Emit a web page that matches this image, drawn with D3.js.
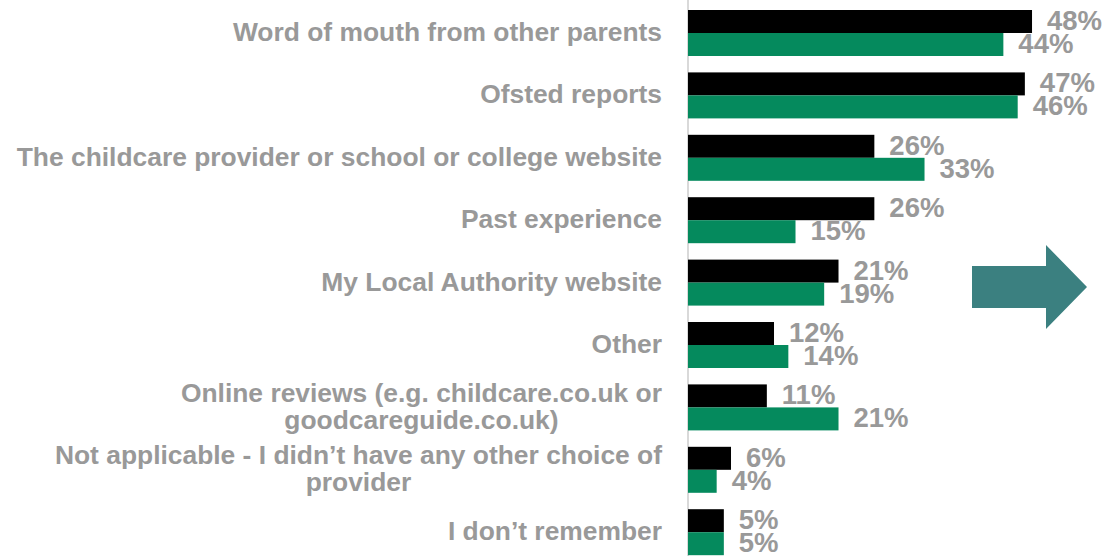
<!DOCTYPE html>
<html>
<head>
<meta charset="utf-8">
<script src="https://cdn.jsdelivr.net/npm/d3@7"></script>
<style>
  body { margin: 0; background: #fff; }
  svg text { font-family: "Liberation Sans", Arial, sans-serif; font-weight: bold; fill: #999; }
</style>
</head>
<body>
<div id="chart"></div>
<script>
const categories = [
  ["Word of mouth from other parents"],
  ["Ofsted reports"],
  ["The childcare provider or school or college website"],
  ["Past experience"],
  ["My Local Authority website"],
  ["Other"],
  ["Online reviews (e.g. childcare.co.uk or", "goodcareguide.co.uk)"],
  ["Not applicable - I didn\u2019t have any other choice of", "provider"],
  ["I don\u2019t remember"]
];
const seriesBlack = [48, 47, 26, 26, 21, 12, 11, 6, 5];
const seriesGreen = [44, 46, 33, 15, 19, 14, 21, 4, 5];
const seriesNames = ["black", "green"];
const colors = { black: "#000000", green: "#058a5d" };

const width = 1105, height = 556;
const axisX = 688;

const svg = d3.select("#chart").append("svg")
  .attr("width", width)
  .attr("height", height);

const x = d3.scaleLinear().domain([0, 58]).range([axisX, 1103.7]);

const y = d3.scaleBand()
  .domain(d3.range(categories.length))
  .range([1.8, 563.4])
  .paddingInner(0.263)
  .paddingOuter(0.1315);

const ySub = d3.scaleBand()
  .domain(seriesNames)
  .range([0, y.bandwidth()]);

const rows = categories.map((c, i) => ({
  i,
  lines: c,
  values: [
    { key: "black", v: seriesBlack[i] },
    { key: "green", v: seriesGreen[i] }
  ]
}));

// axis line
svg.append("line")
  .attr("x1", axisX).attr("x2", axisX)
  .attr("y1", 0).attr("y2", height)
  .attr("stroke", "#d9d9d9")
  .attr("stroke-width", 2);

const groups = svg.selectAll("g.row")
  .data(rows)
  .join("g")
  .attr("class", "row")
  .attr("transform", d => `translate(0,${y(d.i)})`);

groups.selectAll("rect")
  .data(d => d.values)
  .join("rect")
  .attr("x", axisX)
  .attr("y", d => ySub(d.key))
  .attr("width", d => x(d.v) - axisX)
  .attr("height", ySub.bandwidth())
  .attr("fill", d => colors[d.key]);

groups.selectAll("text.val")
  .data(d => d.values)
  .join("text")
  .attr("class", "val")
  .attr("x", d => x(d.v) + 15)
  .attr("y", d => ySub(d.key) + ySub.bandwidth() / 2 + 8.5)
  .style("font-size", "27.5px")
  .text(d => d.v + "%");

// category labels, right aligned, multi-line blocks centred
const labelRight = 662;
groups.each(function (d) {
  const g = d3.select(this);
  const mid = y.bandwidth() / 2;
  const lineH = 27;
  const texts = d.lines.map((line, k) =>
    g.append("text")
      .style("font-size", "26.4px")
      .attr("y", mid + 8 + (k - (d.lines.length - 1) / 2) * lineH)
      .text(line));
  const maxW = d3.max(texts, t => t.node().getComputedTextLength());
  const cx = labelRight - maxW / 2;
  texts.forEach(t => t.attr("x", cx).attr("text-anchor", "middle"));
});

// arrow
const arrow = [[972, 266], [1046, 266], [1046, 245], [1087, 287], [1046, 329], [1046, 308], [972, 308]];
svg.append("path")
  .attr("d", d3.line()(arrow) + "Z")
  .attr("fill", "#3b8080");
</script>
</body>
</html>
